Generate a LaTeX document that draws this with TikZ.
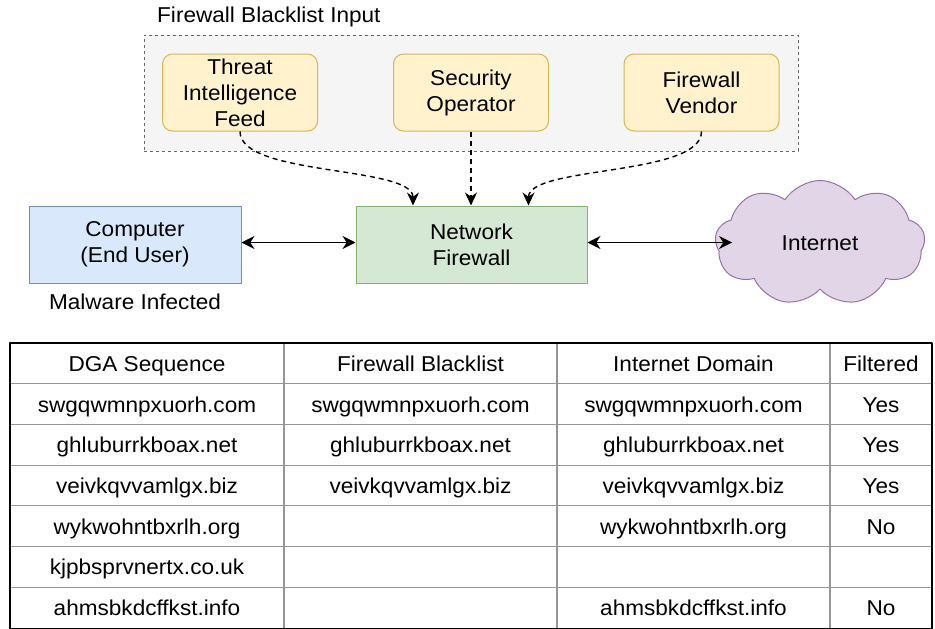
\documentclass[tikz,border=0pt]{standalone}
\usepackage{fontspec}
\setmainfont[FakeStretch=1.05]{Liberation Sans}
\usetikzlibrary{arrows.meta, shapes, shapes.symbols, positioning}
\usepackage{xcolor}
\definecolor{groupfill}{RGB}{245,245,245}
\definecolor{groupline}{RGB}{102,102,102}
\definecolor{yellowfill}{RGB}{255,242,204}
\definecolor{yellowline}{RGB}{214,182,86}
\definecolor{bluefill}{RGB}{218,232,252}
\definecolor{blueline}{RGB}{108,142,191}
\definecolor{greenfill}{RGB}{213,232,212}
\definecolor{greenline}{RGB}{130,179,102}
\definecolor{purplefill}{RGB}{225,213,231}
\definecolor{purpleline}{RGB}{150,115,166}
\definecolor{gridgray}{RGB}{150,150,150}

\begin{document}
\begin{tikzpicture}[
                x=1pt, y=-1pt,
                line join=bevel,
                every node/.style={font=\fontsize{21.5}{26}\selectfont},
                sourcenode/.style={shape=rectangle, rounded corners=10pt, fill=yellowfill, draw=yellowline, line width=1pt, minimum width=155pt, minimum height=77pt, align=center},
                hostnode/.style={shape=rectangle, fill=bluefill, draw=blueline, line width=1pt, minimum width=212pt, minimum height=77pt, align=center},
                firewallnode/.style={shape=rectangle, fill=greenfill, draw=greenline, line width=1pt, minimum width=231pt, minimum height=77pt, align=center},
                cloudnode/.style={shape=cloud, cloud puffs=9, cloud puff arc=115, aspect=1.7, fill=purplefill, draw=purpleline, line width=1pt, minimum width=210pt, minimum height=125pt},
                link/.style={line width=1.5pt, {Stealth[length=13pt, width=13pt]}-{Stealth[length=13pt, width=13pt]}},
                feed/.style={line width=1.4pt, dash pattern=on 5pt off 4pt, -{Stealth[length=13pt, width=12pt]}},
                gridline/.style={draw=gridgray, line width=1.2pt},
                cellnode/.style={inner sep=0pt, text height=19pt, text depth=3pt}
                ]
                \useasboundingbox (0,0) rectangle (935,629);

                %% Blacklist sources
                \node[fill=groupfill, draw=groupline, dashed, line width=1pt, minimum width=654pt, minimum height=116pt] (inputgroup) at (471,93) {};
                \node[anchor=west, inner sep=0pt] (grouptitle) at (157,17) {Firewall Blacklist Input};
                \node[sourcenode] (threat) at (240,92.5) {Threat\\Intelligence\\Feed};
                \node[sourcenode] (secop) at (471,92.5) {Security\\Operator};
                \node[sourcenode] (vendor) at (701.5,92.5) {Firewall\\Vendor};

                %% Network path
                \node[hostnode] (computer) at (135,244.5) {Computer\\(End User)};
                \node[below=10pt of computer, inner sep=0pt] (malware) {Malware Infected};
                \node[firewallnode] (netfw) at (471.5,244.5) {Network\\Firewall};
                \node[cloudnode] (internet) at (820,243) {Internet};

                \draw[link] ([yshift=2pt]computer.east) -- ([yshift=2pt]netfw.west);
                \draw[link] ([yshift=2pt]netfw.east) -- ([yshift=2pt, xshift=17pt]netfw.east -| internet.west);

                        % Feeds into firewall
\draw[feed] (threat.south) .. controls +(0,45) and +(0,-40) .. ([xshift=-58.5pt]netfw.north);
\draw[feed] (secop.south) -- (secop.south |- netfw.north);
\draw[feed] (vendor.south) .. controls +(0,45) and +(0,-40) .. ([xshift=57pt]netfw.north);

%% Table
                \foreach \k in {1,...,6}
                    \draw[gridline] (10,343+\k*40.7) -- (932,343+\k*40.7);
                \foreach \x in {284,557,830}
                    \draw[gridline] (\x,343) -- (\x,629);
                \foreach \r/\a/\b/\c/\d in {
                    1/DGA Sequence/Firewall Blacklist/Internet Domain/Filtered,
                    2/swgqwmnpxuorh.com/swgqwmnpxuorh.com/swgqwmnpxuorh.com/Yes,
                    3/ghluburrkboax.net/ghluburrkboax.net/ghluburrkboax.net/Yes,
                    4/veivkqvvamlgx.biz/veivkqvvamlgx.biz/veivkqvvamlgx.biz/Yes,
                    5/wykwohntbxrlh.org/{}/wykwohntbxrlh.org/No,
                    6/kjpbsprvnertx.co.uk/{}/{}/{},
                    7/ahmsbkdcffkst.info/{}/ahmsbkdcffkst.info/No}{
                    \node[cellnode] (dga-\r-1) at (147,343+\r*40.7-20.35) {\a};
                    \node[cellnode] (dga-\r-2) at (420.5,343+\r*40.7-20.35) {\b};
                    \node[cellnode] (dga-\r-3) at (693.5,343+\r*40.7-20.35) {\c};
                    \node[cellnode] (dga-\r-4) at (881,343+\r*40.7-20.35) {\d};
                }
                    \draw[line width=2.2pt] (10,343) rectangle (932,629);
                    \end{tikzpicture}
\end{document}
